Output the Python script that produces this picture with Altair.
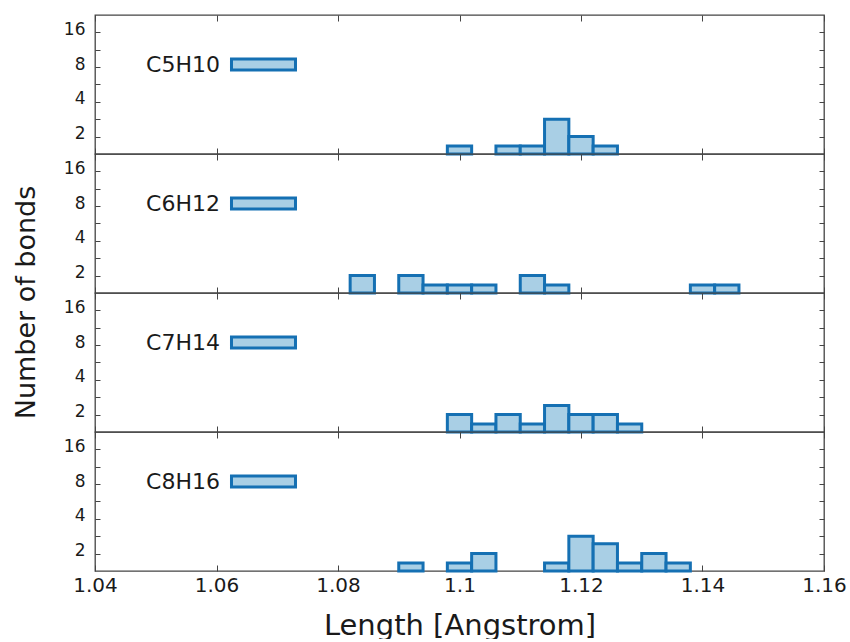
import altair as alt
import pandas as pd

# Bond-length histograms (bin width 0.004 Å), one panel per molecule.
formulas = ["C5H10", "C6H12", "C7H14", "C8H16"]

c5h10_centers = [1.100, 1.108, 1.112, 1.116, 1.120, 1.124]
c5h10_heights = [1.66, 1.66, 1.66, 2.83, 2.0, 1.66]

c6h12_centers = [1.084, 1.092, 1.096, 1.100, 1.104, 1.112, 1.116, 1.140, 1.144]
c6h12_heights = [2.0, 2.0, 1.66, 1.66, 1.66, 2.0, 1.66, 1.66, 1.66]

c7h14_centers = [1.100, 1.104, 1.108, 1.112, 1.116, 1.120, 1.124, 1.128]
c7h14_heights = [2.0, 1.66, 2.0, 1.66, 2.4, 2.0, 2.0, 1.66]

c8h16_centers = [1.092, 1.100, 1.104, 1.116, 1.120, 1.124, 1.128, 1.132, 1.136]
c8h16_heights = [1.66, 1.66, 2.0, 1.66, 2.83, 2.43, 1.66, 2.0, 1.66]

BIN = 0.004
x_ticks = [1.04, 1.06, 1.08, 1.10, 1.12, 1.14, 1.16]
y_labels = [2, 4, 8, 16]
y_ticks = [2, 2.828, 4, 5.657, 8, 11.31, 16]
y_min, y_max = 1.41421, 22.627

W, H = 729, 139
FONT = "DejaVu Sans"
TEXT = "#1a1a1a"
AXIS = "#444444"
FILL = "#a9cfe5"
EDGE = "#1570b3"

# key sample: a wide box drawn to the right of its label
KEY_SYMBOL = "M1.406,-0.172H3.406V0.172H1.406Z"

series = {
    "C5H10": (c5h10_centers, c5h10_heights),
    "C6H12": (c6h12_centers, c6h12_heights),
    "C7H14": (c7h14_centers, c7h14_heights),
    "C8H16": (c8h16_centers, c8h16_heights),
}


def panel(name, idx):
    centers, heights = series[name]
    df = pd.DataFrame({
        "formula": name,
        "lo": [c - BIN / 2 for c in centers],
        "hi": [c + BIN / 2 for c in centers],
        "count": heights,
        "base": y_min,
    })
    xs = alt.Scale(domain=[1.04, 1.16], nice=False, zero=False)
    ys = alt.Scale(type="log", base=2, domain=[y_min, y_max], nice=False)
    base = alt.Chart(df)

    label_axis = dict(
        orient="left", values=y_labels, ticks=False, domain=False, grid=False,
        labelFont=FONT, labelFontSize=17, labelColor=TEXT, labelPadding=10,
        labelOffset=-3, labelOverlap=False, title=None,
    )
    if idx == 1:
        label_axis.update(
            title="Number of bonds", titleFont=FONT, titleFontSize=27,
            titleFontWeight="normal", titleColor=TEXT, titleAngle=270,
            titleX=-69, titleY=148, titleAlign="center", titleBaseline="middle",
        )

    bars = base.mark_bar(stroke=EDGE, strokeWidth=3, opacity=1).encode(
        x=alt.X("lo:Q", scale=xs, axis=alt.Axis(
            orient="top", offset=-H, values=x_ticks, labels=False, domain=False,
            grid=False, tickSize=6, tickColor=AXIS, title=None)),
        x2="hi:Q",
        y=alt.Y("count:Q", scale=ys, axis=alt.Axis(**label_axis)),
        y2="base:Q",
        color=alt.Color("formula:N", scale=alt.Scale(range=[FILL]), legend=alt.Legend(
            orient="none", legendX=58, legendY=16, title=None,
            symbolType=KEY_SYMBOL, symbolSize=4096,
            symbolStrokeColor=EDGE, symbolStrokeWidth=3, symbolFillColor=FILL,
            labelFont=FONT, labelFontSize=22, labelColor=TEXT,
            labelAlign="right", labelOffset=0, padding=0)),
    )

    top_ticks = base.mark_point(opacity=0).encode(
        x=alt.X("lo:Q", scale=xs, axis=alt.Axis(
            orient="bottom", offset=-H, values=x_ticks, labels=False, domain=False,
            grid=False, tickSize=6, tickColor=AXIS, title=None)),
        y=alt.Y("count:Q", scale=ys, axis=alt.Axis(
            orient="right", offset=-W, values=y_ticks, labels=False, domain=False,
            grid=False, tickSize=5, tickColor=AXIS, title=None)),
    )

    if idx == 3:
        bottom_axis = alt.Axis(
            orient="bottom", values=x_ticks, ticks=False, domain=False, grid=False,
            labelFont=FONT, labelFontSize=20, labelColor=TEXT, labelPadding=4,
            labelFlush=False, labelOverlap=False, format="~g",
            title="Length [Angstrom]", titleFont=FONT, titleFontSize=29,
            titleFontWeight="normal", titleColor=TEXT, titlePadding=16)
    else:
        bottom_axis = None

    right_ticks = base.mark_point(opacity=0).encode(
        x=alt.X("lo:Q", scale=xs, axis=bottom_axis),
        y=alt.Y("count:Q", scale=ys, axis=alt.Axis(
            orient="left", offset=-W, values=y_ticks, labels=False, domain=False,
            grid=False, tickSize=5, tickColor=AXIS, title=None)),
    )

    return alt.layer(bars, top_ticks, right_ticks).resolve_axis(
        x="independent", y="independent"
    ).properties(width=W, height=H)


chart = alt.vconcat(
    *[panel(f, i) for i, f in enumerate(formulas)], spacing=0, bounds="flush"
).resolve_scale(
    x="independent", y="independent", color="independent"
).properties(
    padding={"left": 11, "top": 13, "right": 0, "bottom": -2}
).configure_view(
    stroke=AXIS, strokeWidth=1.3
)

chart.save("out.html", embed_options={"renderer": "svg", "actions": False})
